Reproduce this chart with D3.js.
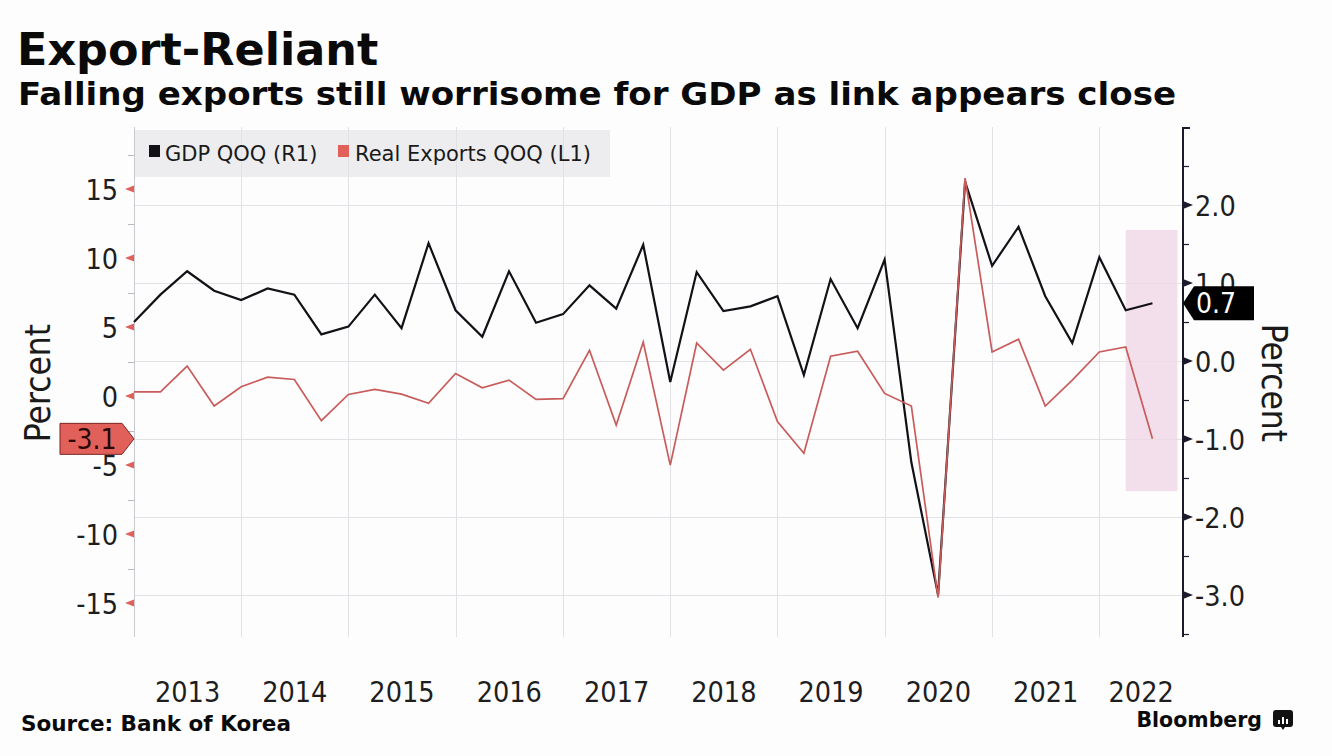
<!DOCTYPE html>
<html>
<head>
<meta charset="utf-8">
<script src="https://cdn.jsdelivr.net/npm/d3@7"></script>
<style>
  html, body { margin: 0; padding: 0; background: #fdfdfe; }
  svg { display: block; }
</style>
</head>
<body>
<svg id="chart" width="1332" height="756"></svg>
<script>
// ---------------- data ----------------
const quarters = ["2012Q4",
  "2013Q1","2013Q2","2013Q3","2013Q4",
  "2014Q1","2014Q2","2014Q3","2014Q4",
  "2015Q1","2015Q2","2015Q3","2015Q4",
  "2016Q1","2016Q2","2016Q3","2016Q4",
  "2017Q1","2017Q2","2017Q3","2017Q4",
  "2018Q1","2018Q2","2018Q3","2018Q4",
  "2019Q1","2019Q2","2019Q3","2019Q4",
  "2020Q1","2020Q2","2020Q3","2020Q4",
  "2021Q1","2021Q2","2021Q3","2021Q4",
  "2022Q1","2022Q2"];
// GDP QoQ, % (right axis)
const gdpQoQ = [0.50,
  0.85, 1.15, 0.90, 0.78,
  0.93, 0.85, 0.34, 0.44,
  0.85, 0.42, 1.51, 0.65,
  0.31, 1.15, 0.49, 0.60,
  0.97, 0.67, 1.49, -0.27,
  1.14, 0.64, 0.70, 0.83,
  -0.18, 1.05, 0.42, 1.30,
  -1.30, -3.00, 2.30, 1.22,
  1.72, 0.83, 0.23, 1.33,
  0.65, 0.74];
// Real exports QoQ, % (left axis)
const exportsQoQ = [0.31,
  0.31, 2.17, -0.72, 0.68,
  1.37, 1.20, -1.78, 0.12,
  0.48, 0.14, -0.53, 1.64,
  0.60, 1.16, -0.24, -0.19,
  3.32, -2.10, 3.92, -5.00,
  3.85, 1.88, 3.39, -1.85,
  -4.14, 2.89, 3.25, 0.19,
  -0.72, -14.60, 15.80, 3.20,
  4.12, -0.72, 1.16, 3.20,
  3.56, -3.10];
const leftTicks = [15, 10, 5, 0, -5, -10, -15];
const leftMinorTicks = [17.5, 12.5, 7.5, 2.5, -2.5, -7.5, -12.5];
const rightTicks = [2.0, 1.0, 0.0, -1.0, -2.0, -3.0];
const rightMinorTicks = [2.5, 1.5, 0.5, -0.5, -1.5, -2.5, -3.5];
const yearLabels = [2013, 2014, 2015, 2016, 2017, 2018, 2019, 2020, 2021, 2022];
const shadeDates = ["2022-04-01", "2022-09-24"];
const shadeRange = [1.68, -1.67];   // on right axis
const legendItems = ["GDP QOQ (R1)", "Real Exports QOQ (L1)"];

// ---------------- setup ----------------
const W = 1332, H = 756;
const plot = { left: 134, right: 1183, top: 127, bottom: 637 };
const svg = d3.select("#chart");
const FONT = "'DejaVu Sans', Verdana, sans-serif";
const FONTC = "'DejaVu Sans Condensed', 'DejaVu Sans', sans-serif";
const BLACK = "#111116";
const RED_LINE = "#c85c5a";
const RED_BOX = "#e2605a";

const qDate = q => new Date(+q.slice(0, 4), +q.slice(5) * 3, 1);
const dates = quarters.map(qDate);

const x = d3.scaleTime()
  .domain([new Date(2013, 0, 1), new Date(2022, 9, 13)])
  .range([plot.left, plot.right]);
const yR = d3.scaleLinear().domain([-3.54, 3.0]).range([plot.bottom, plot.top]);
const yL = d3.scaleLinear().domain([-17.46, 19.5]).range([plot.bottom, plot.top]);

svg.append("rect").attr("width", W).attr("height", H).attr("fill", "#fdfdfe");

// ---------------- titles ----------------
svg.append("text").attr("x", 17).attr("y", 65)
  .attr("font-family", FONT).attr("font-weight", "bold").attr("font-size", 44.5)
  .attr("fill", "#0a0a0a").text("Export-Reliant");
svg.append("text").attr("x", 18).attr("y", 105)
  .attr("font-family", FONT).attr("font-weight", "bold").attr("font-size", 32)
  .attr("textLength", 1158).attr("lengthAdjust", "spacingAndGlyphs")
  .attr("fill", "#0a0a0a").text("Falling exports still worrisome for GDP as link appears close");

// ---------------- legend background ----------------
svg.append("rect").attr("x", plot.left).attr("y", 130).attr("width", 476).attr("height", 47)
  .attr("fill", "#ededf0");

// ---------------- gridlines ----------------
const grid = svg.append("g").attr("stroke", "#e1e1e6").attr("stroke-width", 1);
grid.selectAll("line.h").data(rightTicks).join("line")
  .attr("x1", plot.left).attr("x2", plot.right)
  .attr("y1", d => Math.round(yR(d)) + 0.5).attr("y2", d => Math.round(yR(d)) + 0.5);
const yearBounds = d3.timeYear.range(new Date(2014, 0, 1), new Date(2022, 1, 1));
grid.selectAll("line.v").data(yearBounds).join("line")
  .attr("y1", plot.top).attr("y2", plot.bottom)
  .attr("x1", d => Math.round(x(d)) + 0.5).attr("x2", d => Math.round(x(d)) + 0.5);

// ---------------- shaded region ----------------
svg.append("rect")
  .attr("x", x(new Date(shadeDates[0])))
  .attr("width", x(new Date(shadeDates[1])) - x(new Date(shadeDates[0])))
  .attr("y", yR(shadeRange[0]))
  .attr("height", yR(shadeRange[1]) - yR(shadeRange[0]))
  .attr("fill", "#efd7e6").attr("opacity", 0.8);

// ---------------- legend items ----------------
const leg = svg.append("g").attr("font-family", FONT).attr("font-size", 21).attr("fill", "#1a1a1a");
leg.append("rect").attr("x", 149).attr("y", 145).attr("width", 11).attr("height", 12).attr("fill", BLACK);
leg.append("text").attr("x", 165).attr("y", 160.5).text(legendItems[0]);
leg.append("rect").attr("x", 338).attr("y", 145).attr("width", 11).attr("height", 12).attr("fill", RED_BOX);
leg.append("text").attr("x", 355).attr("y", 160.5).text(legendItems[1]);

// ---------------- left axis ----------------
const gL = svg.append("g").attr("transform", `translate(${plot.left},0)`)
  .call(d3.axisLeft(yL).tickValues(leftTicks).tickSize(0).tickPadding(16).tickFormat(d => String(d)));
gL.select(".domain").remove();
gL.selectAll("text").attr("font-family", FONTC).attr("font-size", 28.5).attr("fill", "#1e1e1e").attr("dy", "0.36em");
svg.append("line").attr("x1", plot.left + 0.5).attr("x2", plot.left + 0.5)
  .attr("y1", plot.top).attr("y2", plot.bottom).attr("stroke", "#c9c9cf").attr("stroke-width", 1);
svg.append("g").selectAll("path").data(leftTicks).join("path")
  .attr("d", d => `M${plot.left - 9},${yL(d)} L${plot.left},${yL(d) - 3.5} L${plot.left},${yL(d) + 3.5} Z`)
  .attr("fill", "#e0605a");
svg.append("g").selectAll("line").data(leftMinorTicks).join("line")
  .attr("x1", plot.left - 6).attr("x2", plot.left)
  .attr("y1", d => Math.round(yL(d)) + 0.5).attr("y2", d => Math.round(yL(d)) + 0.5)
  .attr("stroke", "#b9b9c0").attr("stroke-width", 1);

// ---------------- right axis ----------------
const gR = svg.append("g").attr("transform", `translate(${plot.right},0)`)
  .call(d3.axisRight(yR).tickValues(rightTicks).tickSize(0).tickPadding(12).tickFormat(d => d.toFixed(1)));
gR.select(".domain").remove();
gR.selectAll("text").attr("font-family", FONTC).attr("font-size", 28.5).attr("fill", "#1e1e1e").attr("dy", "0.36em");
svg.append("line").attr("x1", plot.right).attr("x2", plot.right)
  .attr("y1", plot.top).attr("y2", plot.bottom).attr("stroke", "#1c1a2a").attr("stroke-width", 2);
svg.append("line").attr("x1", plot.right).attr("x2", plot.right + 7)
  .attr("y1", plot.top + 1).attr("y2", plot.top + 1).attr("stroke", "#1c1a2a").attr("stroke-width", 2);
svg.append("g").selectAll("path").data(rightTicks).join("path")
  .attr("d", d => `M${plot.right + 10},${yR(d)} L${plot.right},${yR(d) - 4} L${plot.right},${yR(d) + 4} Z`)
  .attr("fill", "#1c1a2a");
svg.append("g").selectAll("line").data(rightMinorTicks).join("line")
  .attr("x1", plot.right).attr("x2", plot.right + 6)
  .attr("y1", d => Math.round(yR(d)) + 0.5).attr("y2", d => Math.round(yR(d)) + 0.5)
  .attr("stroke", "#1c1a2a").attr("stroke-width", 1.2);

// axis titles
svg.append("text").attr("transform", "translate(50,383) rotate(-90)")
  .attr("text-anchor", "middle").attr("font-family", FONTC).attr("font-size", 35)
  .attr("fill", "#1a1a1a").text("Percent");
svg.append("text").attr("transform", "translate(1262,383) rotate(90)")
  .attr("text-anchor", "middle").attr("font-family", FONTC).attr("font-size", 35)
  .attr("fill", "#1a1a1a").text("Percent");

// ---------------- x labels ----------------
const xEnd = x.domain()[1];
svg.append("g").selectAll("text").data(yearLabels).join("text")
  .attr("x", d => {
    const a = new Date(d, 0, 1), b = new Date(d + 1, 0, 1);
    return (x(a) + x(b < xEnd ? b : xEnd)) / 2;
  })
  .attr("y", 702).attr("text-anchor", "middle")
  .attr("font-family", FONTC).attr("font-size", 28.5).attr("fill", "#1e1e1e")
  .text(d => d);

// ---------------- lines ----------------
const lineR = d3.line().x((d, i) => x(dates[i])).y(d => yR(d));
const lineL = d3.line().x((d, i) => x(dates[i])).y(d => yL(d));
svg.append("path").datum(gdpQoQ).attr("d", lineR)
  .attr("fill", "none").attr("stroke", BLACK).attr("stroke-width", 2.2).attr("stroke-linejoin", "miter");
svg.append("path").datum(exportsQoQ).attr("d", lineL)
  .attr("fill", "none").attr("stroke", RED_LINE).attr("stroke-width", 1.7).attr("stroke-linejoin", "miter");

// ---------------- last-value labels ----------------
const lastExp = exportsQoQ[exportsQoQ.length - 1];
const ly = yL(lastExp);
svg.append("path")
  .attr("d", `M60,${ly - 15.5} L122,${ly - 15.5} L134,${ly} L122,${ly + 15.5} L60,${ly + 15.5} Z`)
  .attr("fill", RED_BOX).attr("stroke", "#7a2622").attr("stroke-width", 1);
svg.append("text").attr("x", 92).attr("y", ly).attr("dy", "0.36em").attr("text-anchor", "middle")
  .attr("font-family", FONTC).attr("font-size", 28).attr("fill", "#2a0808")
  .text(d3.format(".1f")(lastExp).replace("−", "-"));

const lastGdp = gdpQoQ[gdpQoQ.length - 1];
const gy = yR(lastGdp);
svg.append("path")
  .attr("d", `M${plot.right},${gy} L${plot.right + 11},${gy - 17} L1254,${gy - 17} L1254,${gy + 17} L${plot.right + 11},${gy + 17} Z`)
  .attr("fill", "#000");
svg.append("text").attr("x", 1196).attr("y", gy).attr("dy", "0.36em")
  .attr("font-family", FONTC).attr("font-size", 28).attr("fill", "#ffffff")
  .text(d3.format(".1f")(lastGdp));

// ---------------- footer ----------------
svg.append("text").attr("x", 21).attr("y", 731)
  .attr("font-family", FONT).attr("font-weight", "bold").attr("font-size", 21.5)
  .attr("fill", "#0a0a0a").text("Source: Bank of Korea");
svg.append("text").attr("x", 1262).attr("y", 727).attr("text-anchor", "end")
  .attr("font-family", FONT).attr("font-weight", "bold").attr("font-size", 20.5)
  .attr("fill", "#0a0a0a").text("Bloomberg");
const logo = svg.append("g").attr("transform", "translate(1273,710)");
logo.append("path").attr("d", "M3,0 H17 Q20,0 20,3 V14 Q20,17 17,17 H12 L10,20 L8,17 H3 Q0,17 0,14 V3 Q0,0 3,0 Z").attr("fill", "#111");
[[5, 10, 4], [9, 7, 7], [13, 9, 5]].forEach(([bx, by, bh]) =>
  logo.append("rect").attr("x", bx).attr("y", by).attr("width", 2).attr("height", bh).attr("fill", "#fff"));
</script>
</body>
</html>
